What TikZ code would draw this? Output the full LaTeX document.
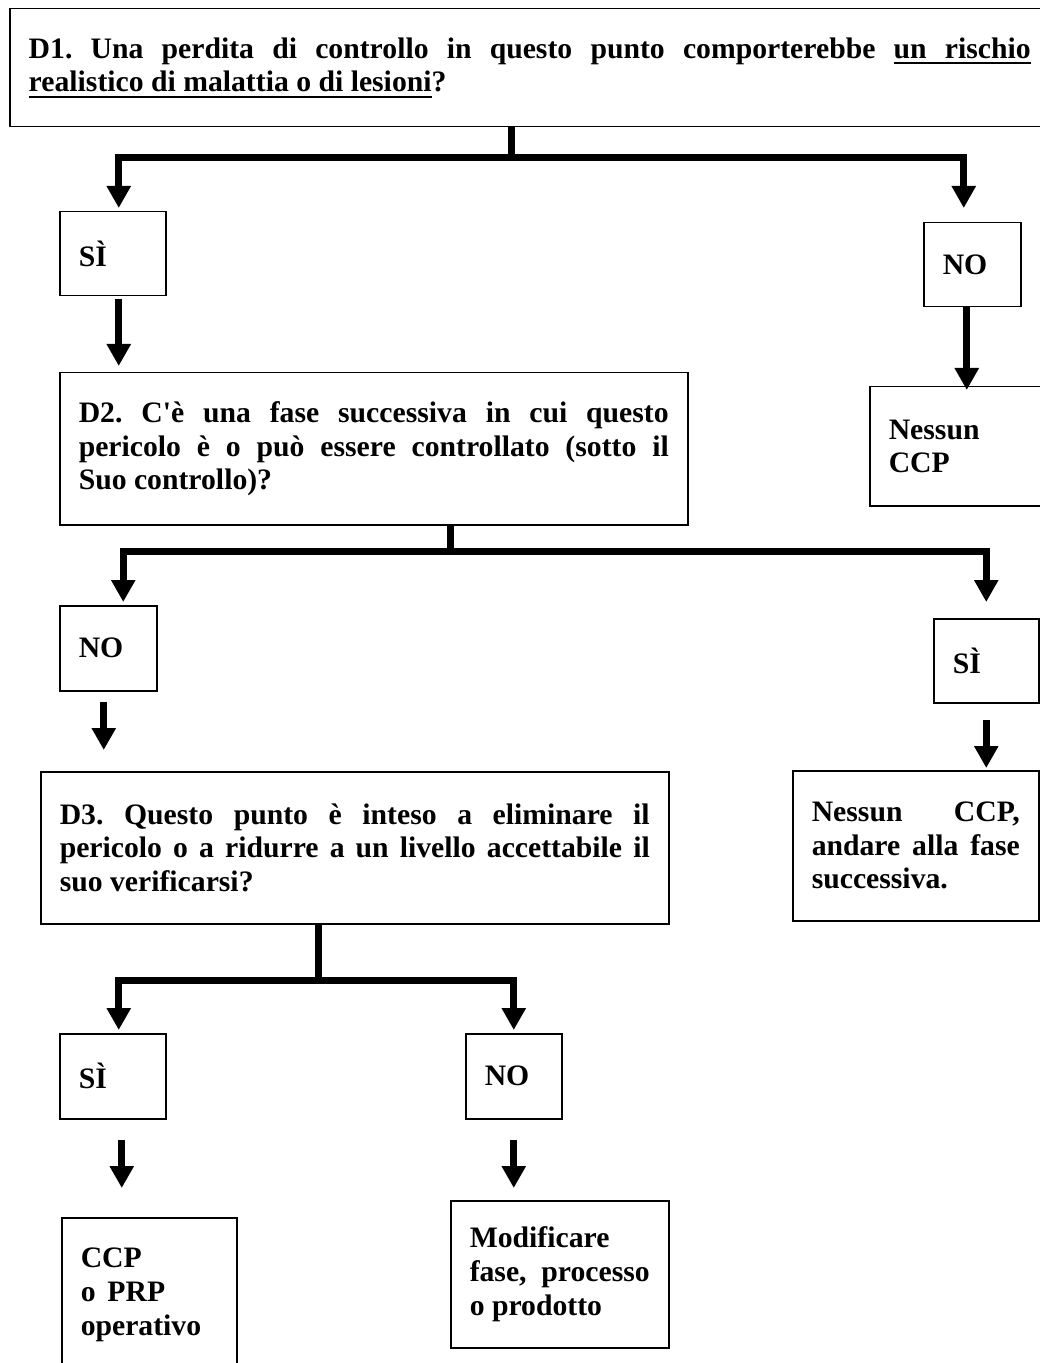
\documentclass[tikz,border=0pt]{standalone}
\usepackage{fontspec}
\setmainfont{Liberation Serif}[Ligatures=TeXOff]
\usepackage{tikz}
\usetikzlibrary{arrows.meta}
\newcommand{\ulw}[1]{\setbox0\hbox{#1}\rlap{\vrule height -2.2pt depth 3.2pt width \wd0}\box0}
\newcommand{\ulsp}{\leaders\hrule height -2.2pt depth 3.2pt\hskip\fontdimen2\font plus\fontdimen3\font minus\fontdimen4\font\relax}

\begin{document}
\begin{tikzpicture}[x=0.5pt, y=-0.5pt,
    box/.style={draw, line width=0.75pt, anchor=north west, inner xsep=9.5pt, inner ysep=0pt, align=justify, font=\bfseries\fontsize{14.85pt}{16.8pt}\selectfont\frenchspacing},
    lbl/.style={box, align=left},
    conn/.style={line width=3.5pt},
    arr/.style={conn, -{Triangle[length=11pt, width=11.5pt]}}]
      \useasboundingbox (0,0) rectangle (1039,1363);
      \node [box, minimum width=520pt, minimum height=59pt, text width=501pt] (d1) at (9,8) {D1. Una perdita di controllo in questo punto comporterebbe \ulw{un}\ulsp\ulw{rischio}\linebreak \ulw{realistico}\ulsp\ulw{di}\ulsp\ulw{malattia}\ulsp\ulw{o}\ulsp\ulw{di}\ulsp\ulw{lesioni}?};
      \node [lbl, minimum width=53pt, minimum height=42pt, text width=34pt] (si1) at (59,211) {SÌ};
      \node [lbl, minimum width=48.5pt, minimum height=42pt, text width=29.5pt] (no1) at (923,222) {NO};
      \node [box, minimum width=314pt, minimum height=76pt, text width=295pt] (d2) at (59,372) {D2. C'è una fase successiva in cui questo\linebreak pericolo è o può essere controllato (sotto il\linebreak Suo controllo)?};
      \node [lbl, minimum width=90pt, minimum height=59.5pt, text width=71pt] (ncp1) at (869,386) {Nessun\\CCP};
      \node [lbl, minimum width=48.5pt, minimum height=42.5pt, text width=29.5pt] (no2) at (59,605) {NO};
      \node [lbl, minimum width=52.5pt, minimum height=42pt, text width=33.5pt] (si2) at (933,618) {SÌ};
      \node [box, minimum width=314pt, minimum height=76pt, text width=295pt] (d3) at (40,771) {D3. Questo punto è inteso a eliminare il\linebreak pericolo o a ridurre a un livello accettabile il\linebreak suo verificarsi?};
      \node [box, minimum width=123pt, minimum height=75pt, text width=104pt] (ncp2) at (792,770) {Nessun CCP,\linebreak andare alla fase\linebreak successiva.};
      \node [lbl, minimum width=53pt, minimum height=42.5pt, text width=34pt] (si3) at (59,1033) {SÌ};
      \node [lbl, minimum width=48pt, minimum height=42.5pt, text width=29pt] (no3) at (465,1033) {NO};
      \node [lbl, minimum width=87.5pt, minimum height=77pt, text width=68.5pt] (ccp) at (61,1217) {CCP\\o\hspace{0.4em}PRP\\operativo};
      \node [box, minimum width=109pt, minimum height=73.5pt, text width=90pt] (mod) at (450,1200) {Modificare\\fase, processo\linebreak o prodotto};
      \coordinate (j1) at (511,158);
      \coordinate (j2) at (450,551);
      \coordinate (j3) at (318,980);
      \draw[conn] (d1.south -| j1) -- (j1);
      \draw[arr, shorten >=1.5pt] (j1) -| ([xshift=3pt]si1.north);
      \draw[arr, shorten >=7pt] (j1) -| ([xshift=-4.25pt]no1.north);
      \draw[arr, shorten <=1.5pt, shorten >=3pt] ([xshift=3pt]si1.south) -- ([xshift=3pt]si1.south |- d2.north);
      \draw[arr, shorten >=-2pt] ([xshift=-2.75pt]no1.south) -- ([xshift=-2.75pt]no1.south |- ncp1.north);
      \draw[conn] (j2 |- d2.south) -- (j2);
      \draw[arr, shorten >=1.5pt] (j2) -| ([xshift=7.5pt]no2.north);
      \draw[arr, shorten >=8pt] (j2) -| (si2.north);
      \draw[arr, shorten <=5pt, shorten >=10.5pt] ([xshift=-2.25pt]no2.south) -- ([xshift=-2.25pt]no2.south |- d3.north);
      \draw[arr, shorten <=8pt, shorten >=1pt] (si2.south) -- (si2.south |- ncp2.north);
      \draw[conn] (j3 |- d3.south) -- (j3);
      \draw[arr, shorten >=1.5pt] (j3) -| ([xshift=3pt]si3.north);
      \draw[arr, shorten >=1.5pt] (j3) -| (no3.north);
      \draw[arr, shorten <=10pt, shorten >=14.5pt] ([xshift=4.5pt]si3.south) -- ([xshift=4.5pt]si3.south |- ccp.north);
      \draw[arr, shorten <=10pt, shorten >=6pt] (no3.south) -- (no3.south |- mod.north);
    \end{tikzpicture}
\end{document}
